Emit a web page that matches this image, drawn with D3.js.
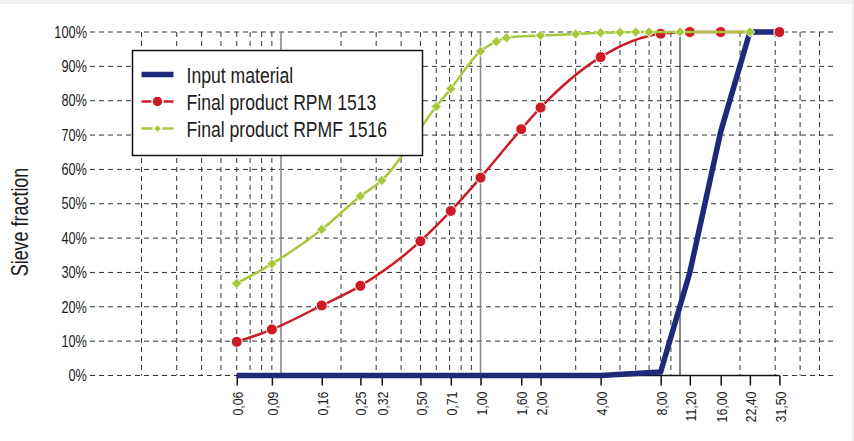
<!DOCTYPE html>
<html>
<head>
<meta charset="utf-8">
<script src="https://cdn.jsdelivr.net/npm/d3@7"></script>
<style>
  html, body { margin: 0; padding: 0; background: #eeefee; }
  svg { display: block; }
  text { font-family: "Liberation Sans", Arial, sans-serif; fill: #1c1c1c; }
</style>
</head>
<body>
<svg width="854" height="441"></svg>
<script>
// sieve sizes in mm (x axis categories) and their printed labels
const sieveSizes = [0.06, 0.09, 0.16, 0.25, 0.32, 0.50, 0.71, 1.00, 1.60, 2.00, 4.00, 8.00, 11.20, 16.00, 22.40, 31.50];
const tickLabels = ['0,06', '0,09', '0,16', '0,25', '0,32', '0,50', '0,71', '1,00', '1,60', '2,00', '4,00', '8,00', '11,20', '16,00', '22,40', '31,50'];
const yTicks = [0, 10, 20, 30, 40, 50, 60, 70, 80, 90, 100];

// Input material (passing %)
const inputValues = [0, 0, 0, 0, 0, 0, 0, 0, 0, 0, 0, 1, 30, 71, 100, 100];

// Final product RPM 1513
const rpmSizes = [0.06, 0.09, 0.16, 0.25, 0.50, 0.71, 1.00, 1.60, 2.00, 4.00, 8.00, 11.20, 16.00, 31.50];
const rpmValues = [9.8, 13.4, 20.4, 26.1, 39.1, 47.9, 57.6, 71.7, 78.0, 92.7, 99.5, 100, 100, 100];

// Final product RPMF 1516
const rpmfSizes = [0.06, 0.09, 0.16, 0.25, 0.32, 0.60, 0.71, 1.00, 1.20, 1.35, 2.00, 3.00, 4.00, 5.00, 6.00, 7.00, 10.00, 22.40];
const rpmfValues = [26.8, 32.5, 42.5, 52.2, 56.8, 78.3, 83.5, 94.4, 97.2, 98.3, 99.0, 99.4, 99.8, 99.9, 100, 100, 100, 100];

const legendNames = ['Input material', 'Final product RPM 1513', 'Final product RPMF 1516'];
const colors = { input: '#20287a', rpm: '#cc1b24', rpmf: '#a6c83a' };

const plot = { left: 90, right: 833, top: 32, bottom: 375.5 };

const svg = d3.select('svg');

// background: grey strip top/right, white panel
svg.append('rect').attr('width', 854).attr('height', 441).attr('fill', '#eeefee');
svg.append('rect').attr('x', 0).attr('y', 4).attr('width', 852).attr('height', 437).attr('fill', '#fff');

const xScale = d3.scaleLog().domain([0.1, 10]).range([281, 680]);
const yScale = d3.scaleLinear().domain([0, 100]).range([plot.bottom, plot.top]);

// minor log grid lines (dashed)
const minor = [];
[0.01, 0.1, 1, 10].forEach(d => {
    for (let k = 2; k <= 9; k++) minor.push(k * d);
});
const grid = svg.append('g');
grid.selectAll('line.vminor')
    .data(minor.filter(v => xScale(v) > plot.left && xScale(v) < plot.right))
    .join('line')
    .attr('x1', d => xScale(d)).attr('x2', d => xScale(d))
    .attr('y1', plot.top).attr('y2', plot.bottom)
    .attr('stroke', '#333').attr('stroke-width', 1)
    .attr('stroke-dasharray', '5,4');

// horizontal dashed grid
grid.selectAll('line.h')
    .data(yTicks)
    .join('line')
    .attr('x1', plot.left).attr('x2', plot.right)
    .attr('y1', d => yScale(d)).attr('y2', d => yScale(d))
    .attr('stroke', '#333').attr('stroke-width', 1)
    .attr('stroke-dasharray', '5,4');

// decade lines (solid)
grid.selectAll('line.decade')
    .data([0.1, 1, 10])
    .join('line')
    .attr('x1', d => xScale(d)).attr('x2', d => xScale(d))
    .attr('y1', plot.top).attr('y2', plot.bottom)
    .attr('stroke', d => d === 10 ? '#111' : '#8a8a8a')
    .attr('stroke-width', d => d === 10 ? 1 : 1.6);

// y axis labels (squeezed horizontally to mimic the condensed face)
const yAxis = svg.append('g')
    .attr('transform', `translate(${plot.left - 3}, 0)`)
    .call(d3.axisLeft(yScale).tickValues(yTicks).tickSize(0).tickPadding(0).tickFormat(d => d + '%'));
yAxis.select('.domain').remove();
yAxis.selectAll('text')
    .style('font-size', '16.3px')
    .attr('fill', '#1c1c1c')
    .attr('x', 0)
    .attr('transform', 'scale(0.785,1)');

// x axis: baseline from first to last sieve, ticks and rotated labels
svg.append('line')
    .attr('x1', xScale(sieveSizes[0])).attr('x2', xScale(sieveSizes[sieveSizes.length - 1]))
    .attr('y1', plot.bottom).attr('y2', plot.bottom)
    .attr('stroke', '#111').attr('stroke-width', 1.5);

const xAxis = svg.append('g')
    .attr('transform', `translate(0, ${plot.bottom})`)
    .call(d3.axisBottom(xScale).tickValues(sieveSizes).tickSize(10)
        .tickFormat((d, i) => tickLabels[i]));
xAxis.select('.domain').remove();
xAxis.selectAll('.tick line').attr('stroke', '#111').attr('stroke-width', 1.5);
xAxis.selectAll('text')
    .style('font-size', '15.5px')
    .attr('fill', '#1c1c1c')
    .attr('text-anchor', 'end')
    .attr('transform', 'rotate(-90) scale(0.8,1)')
    .attr('x', -16 / 0.8)
    .attr('y', 0)
    .attr('dy', '0.36em');

// y axis title
svg.append('text')
    .attr('transform', 'translate(28, 222) rotate(-90) scale(0.78,1)')
    .attr('text-anchor', 'middle')
    .style('font-size', '23px')
    .text('Sieve fraction');

// lines
const smooth = d3.line()
    .x(d => xScale(d[0]))
    .y(d => yScale(d[1]))
    .curve(d3.curveMonotoneX);
const straight = d3.line()
    .x(d => xScale(d[0]))
    .y(d => yScale(d[1]));

const rpmData = d3.zip(rpmSizes, rpmValues);
const rpmfData = d3.zip(rpmfSizes, rpmfValues);
const inputData = d3.zip(sieveSizes, inputValues);

svg.append('path')
    .datum(rpmData)
    .attr('fill', 'none')
    .attr('stroke', colors.rpm)
    .attr('stroke-width', 2.5)
    .attr('d', smooth);

svg.append('path')
    .datum(inputData)
    .attr('fill', 'none')
    .attr('stroke', colors.input)
    .attr('stroke-width', 5.5)
    .attr('stroke-linejoin', 'round')
    .attr('d', straight);

svg.selectAll('circle.rpm')
    .data(rpmData)
    .join('circle')
    .attr('cx', d => xScale(d[0]))
    .attr('cy', d => yScale(d[1]))
    .attr('r', 5.5)
    .attr('fill', colors.rpm)
    .attr('stroke', '#fff')
    .attr('stroke-width', 1);

svg.append('path')
    .datum(rpmfData)
    .attr('fill', 'none')
    .attr('stroke', colors.rpmf)
    .attr('stroke-width', 2.5)
    .attr('d', smooth);

const diamond = d3.symbol(d3.symbolSquare, 52);
svg.selectAll('path.rpmf')
    .data(rpmfData)
    .join('path')
    .attr('transform', d => `translate(${xScale(d[0])}, ${yScale(d[1])}) rotate(45)`)
    .attr('d', diamond)
    .attr('fill', colors.rpmf)
    .attr('stroke', '#fff')
    .attr('stroke-width', 0.8);

// legend
const legend = svg.append('g').attr('transform', 'translate(132.5, 50.5)');
legend.append('rect')
    .attr('width', 290).attr('height', 105)
    .attr('fill', '#fff')
    .attr('stroke', '#111').attr('stroke-width', 1.5);

const rows = legend.selectAll('g.row')
    .data(legendNames)
    .join('g')
    .attr('transform', (d, i) => `translate(0, ${24 + i * 27})`);

rows.append('line')
    .attr('x1', 9).attr('x2', 41)
    .attr('stroke', (d, i) => [colors.input, colors.rpm, colors.rpmf][i])
    .attr('stroke-width', (d, i) => i === 0 ? 5.5 : 2.5);

rows.filter((d, i) => i === 1).append('circle')
    .attr('cx', 25).attr('r', 5.5)
    .attr('fill', colors.rpm).attr('stroke', '#fff').attr('stroke-width', 1.5);

rows.filter((d, i) => i === 2).append('path')
    .attr('transform', 'translate(25, 0) rotate(45)')
    .attr('d', d3.symbol(d3.symbolSquare, 38))
    .attr('fill', colors.rpmf).attr('stroke', '#fff').attr('stroke-width', 1.5);

rows.append('text')
    .attr('transform', 'translate(54, 0) scale(0.79,1)')
    .attr('dy', '0.36em')
    .style('font-size', '22.3px')
    .text(d => d);
</script>
</body>
</html>
